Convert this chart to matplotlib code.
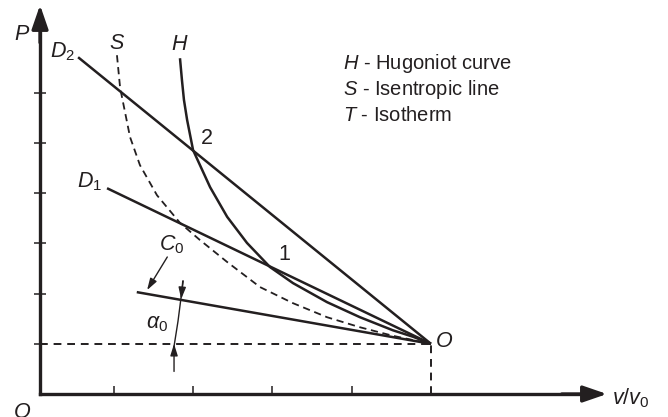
import numpy as np
import matplotlib
matplotlib.use("Agg")
import matplotlib.pyplot as plt

plt.rcParams["font.family"] = ["Liberation Sans", "DejaVu Sans"]
plt.rcParams["mathtext.fontset"] = "custom"
plt.rcParams["mathtext.rm"] = "Liberation Sans"
plt.rcParams["mathtext.it"] = "Liberation Sans:italic"
plt.rcParams["mathtext.bf"] = "Liberation Sans:bold"

INK = "#231f20"

# Initial state O (v/v0 = 1, P = P0)
O_state = (1.0, 1.0)

# Hugoniot curve H
h_v = [0.367, 0.372, 0.377, 0.385, 0.400, 0.443, 0.486, 0.536, 0.594,
       0.652, 0.738, 0.821, 0.904, 0.955, 1.0]
h_p = [6.69, 6.25, 5.86, 5.46, 4.86, 4.12, 3.53, 3.01, 2.53,
       2.21, 1.83, 1.53, 1.27, 1.14, 1.0]

# Isentrope S
s_v = [0.208, 0.216, 0.241, 0.266, 0.309, 0.367, 0.417, 0.486, 0.569,
       0.652, 0.738, 0.821, 0.904, 1.0]
s_p = [6.75, 6.10, 5.12, 4.56, 3.96, 3.41, 3.07, 2.63, 2.13,
       1.81, 1.53, 1.33, 1.16, 1.0]

# Rayleigh lines D2, D1 and the sound-speed line C0 (start points)
rayleigh_names = ["D2", "D1", "C0"]
rayleigh_v = [0.110, 0.183, 0.258]
rayleigh_p = [6.71, 4.10, 2.03]

# States 1 and 2 (intersections with H)
state_labels = ["2", "1"]
state_v = [0.400, 0.594]
state_p = [4.86, 2.53]

x_ticks = [0.2, 0.4, 0.6, 0.8]
y_ticks = [1, 2, 3, 4, 5, 6]

legend_lines = [r"$\mathit{H}$ - Hugoniot curve",
                r"$\mathit{S}$ - Isentropic line",
                r"$\mathit{T}$ - Isotherm"]

LABEL_FS = 15.5
LEGEND_FS = 14.5

fig = plt.figure(figsize=(6.68, 4.17), dpi=100)
ax = fig.add_axes([0, 0, 1, 1])
ax.set_xlim(-0.087, 1.598)
ax.set_ylim(-0.458, 7.85)
ax.patch.set_visible(False)

axis_x = 0.014
for side in ("top", "right"):
    ax.spines[side].set_visible(False)
ax.spines["left"].set_position(("data", axis_x))
ax.spines["bottom"].set_position(("data", 0.0))
ax.spines["left"].set_bounds(0.0, 7.4)
ax.spines["bottom"].set_bounds(axis_x, 1.40)
for side in ("left", "bottom"):
    ax.spines[side].set_linewidth(2.4)
    ax.spines[side].set_color(INK)
    ax.spines[side].set_capstyle("projecting")

ax.set_xticks(x_ticks)
ax.set_yticks(y_ticks)
ax.tick_params(axis="x", direction="in", length=6, width=1.1, color=INK,
               labelbottom=False)
ax.tick_params(axis="y", direction="inout", length=8, width=1.1, color=INK,
               labelleft=False)

# Axis arrowheads
head = "-|>,head_length=1.45,head_width=0.5"
ax.annotate("", xy=(axis_x, 7.75), xytext=(axis_x, 7.0),
            arrowprops=dict(arrowstyle=head, lw=2.4, color=INK,
                            shrinkA=0, shrinkB=0))
ax.annotate("", xy=(1.444, 0.0), xytext=(1.33, 0.0),
            arrowprops=dict(arrowstyle=head, lw=2.4, color=INK,
                            shrinkA=0, shrinkB=0))

# Dashed guides to the initial state
ax.plot([axis_x, O_state[0]], [O_state[1], O_state[1]], ls=(0, (4, 3)),
        lw=1.4, color=INK)
ax.plot([O_state[0], O_state[0]], [0, O_state[1]], ls=(0, (4, 3)),
        lw=1.4, color=INK)

# Curves
ax.plot(h_v, h_p, color=INK, lw=1.8, solid_capstyle="butt")
ax.plot(s_v, s_p, color=INK, lw=1.3, ls=(0, (4, 2.6)))

# Rayleigh lines through O
for v0, p0 in zip(rayleigh_v, rayleigh_p):
    ax.plot([v0, O_state[0]], [p0, O_state[1]], color=INK, lw=1.8,
            solid_capstyle="butt")

txt = dict(color=INK, ha="center", va="center")
ax.text(-0.032, 7.17, r"$P$", fontsize=LABEL_FS, **txt)
ax.text(-0.032, -0.36, r"$O$", fontsize=LABEL_FS, **txt)
ax.text(1.032, 1.05, r"$O$", fontsize=LABEL_FS, **txt)
ax.text(1.456, -0.08, r"$v/v_{\mathit{0}}$", fontsize=LABEL_FS, color=INK,
        ha="left", va="center")
ax.text(0.070, 6.82, r"$D_{\mathit{2}}$", fontsize=LABEL_FS, **txt)
ax.text(0.138, 4.22, r"$D_{\mathit{1}}$", fontsize=LABEL_FS, **txt)
ax.text(0.208, 6.98, r"$S$", fontsize=LABEL_FS, **txt)
ax.text(0.367, 6.96, r"$H$", fontsize=LABEL_FS, **txt)
ax.text(0.345, 2.98, r"$C_0$", fontsize=LABEL_FS, **txt)
ax.text(0.310, 1.40, r"$\alpha_0$", fontsize=LABEL_FS, **txt)
for lab, v, p in zip(state_labels, state_v, state_p):
    ax.text(v + 0.035, p + 0.24, lab, fontsize=LABEL_FS, **txt)

for i, line in enumerate(legend_lines):
    ax.text(0.779, 6.58 - 0.52 * i, line, fontsize=LEGEND_FS, color=INK,
            ha="left", va="center")

# Pointer to the C0 line
small = "-|>,head_length=0.7,head_width=0.22"
ax.annotate("", xy=(0.284, 2.07), xytext=(0.335, 2.73),
            arrowprops=dict(arrowstyle=small, lw=1.0, color=INK,
                            shrinkA=0, shrinkB=0))

# Angle alpha0 between C0 line and the P0 level
ax.plot([0.375, 0.369, 0.362, 0.352], [2.25, 1.88, 1.45, 0.95],
        color=INK, lw=1.0)
ax.annotate("", xy=(0.370, 1.89), xytext=(0.374, 2.25),
            arrowprops=dict(arrowstyle=small, lw=1.0, color=INK,
                            shrinkA=0, shrinkB=0))
ax.annotate("", xy=(0.352, 1.0), xytext=(0.352, 0.45),
            arrowprops=dict(arrowstyle=small, lw=1.0, color=INK,
                            shrinkA=0, shrinkB=0))

fig.savefig("out.png", dpi=100)
